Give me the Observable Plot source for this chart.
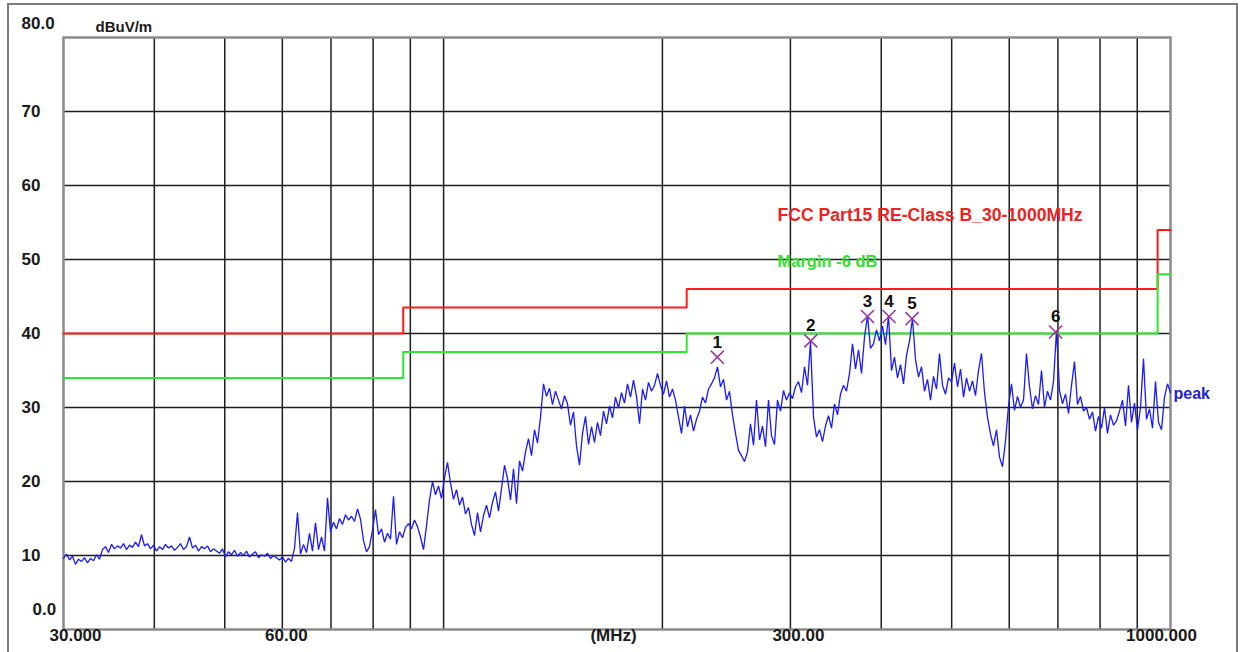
<!DOCTYPE html>
<html><head><meta charset="utf-8">
<script src="https://cdn.jsdelivr.net/npm/d3@7"></script>
<script src="https://cdn.jsdelivr.net/npm/@observablehq/plot@0.6"></script>
<style>
html,body{margin:0;padding:0;background:#fff;}
#wrap{position:relative;width:1243px;height:652px;overflow:hidden;background:#fff;}
#border{position:absolute;left:7px;top:3px;width:1231px;height:670px;border:2px solid #7a7a7a;box-sizing:border-box;pointer-events:none;}
</style></head>
<body><div id="wrap"><div id="chart"></div><div id="border"></div></div>
<script>
// ---------- data ----------
const sweepStart = 30, sweepStop = 1000;   // MHz
// peak detector trace (dBuV/m), sweep points from 30 to 1000 MHz
const traceLevel = [
  9.6, 10.2, 9.4, 9.9, 8.8, 9.5, 9.2, 9.7, 9.0, 9.6, 9.3, 10.1, 9.5,
  10.8, 11.2, 10.4, 11.5, 10.9, 11.3, 11.0, 11.6, 10.8, 11.4, 11.1, 11.8, 11.2, 12.8, 11.3, 11.6,
  10.9, 11.4, 10.6, 11.2, 10.8, 11.5, 11.0, 11.3, 10.7, 11.1, 11.6, 10.8, 11.2, 12.5, 11.0, 11.4, 10.6, 11.2, 10.9, 11.3, 10.5, 10.9, 10.6,
  10.3, 10.9, 9.8, 10.5, 10.1, 10.7, 9.9, 10.4, 10.0, 10.6, 9.8, 10.2, 10.5, 9.7, 10.1, 9.9, 10.3, 9.6, 10.0, 9.7,
  9.4, 9.8, 9.1, 9.6, 9.2,
  11.0, 15.8,
  10.2, 11.5, 10.4, 13.0, 10.6, 14.4, 10.8, 12.5, 10.6,
  17.8, 13.2, 14.5, 13.6, 15.0, 14.2, 15.5, 14.8,
  15.3, 14.6, 16.3, 14.9, 12.0, 10.5, 11.2,
  13.4, 16.2, 12.8, 13.6, 11.8, 13.0, 12.2, 18.0, 11.5, 13.2, 12.4, 13.8,
  14.3, 13.6, 14.8, 13.9, 12.5, 10.8, 14.0,
  17.5, 20.0, 18.2, 19.4, 17.7, 20.5, 22.6,
  19.8, 17.6, 18.9, 16.8, 17.9, 15.6, 16.5, 14.2, 12.7, 15.8, 13.2,
  15.4, 16.8, 15.1, 17.2, 18.6, 16.0, 19.0,
  22.2, 20.4, 17.5, 21.7, 17.0,
  22.8, 21.4, 24.0, 25.8, 23.5, 27.0, 25.2, 28.7,
  33.2, 31.5, 32.6, 30.4, 32.2, 31.0, 29.8, 31.6, 30.5,
  27.6, 29.4, 24.8, 22.2, 26.5, 28.8, 25.0, 27.4,
  25.3, 28.0, 26.2, 29.5, 27.8, 30.2, 28.6, 31.4, 29.9,
  32.0, 30.6, 33.2, 31.4, 33.7, 31.5, 27.8, 32.5, 31.0, 33.4, 32.2, 33.0, 34.6,
  33.0, 31.8, 33.6, 31.4, 32.5, 31.0,
  28.7, 26.5, 30.2, 27.4, 29.0, 26.8, 28.4,
  29.5, 31.4, 30.6, 32.5, 33.2, 34.0,
  35.5,
  32.8, 33.8, 31.0, 32.2,
  29.0, 26.5, 24.2, 23.5, 22.7,
  24.0, 27.8, 24.9, 31.0, 25.6, 27.5, 24.7, 31.0, 26.2, 25.0,
  31.0, 29.5, 32.3, 31.0, 32.0, 31.2, 32.8, 33.5, 32.0,
  35.5, 33.0, 38.9,
  28.7, 26.0, 27.0, 25.4, 27.5, 28.9, 27.2,
  30.5, 29.0, 31.8, 33.0, 32.2, 34.6,
  38.6, 35.2, 37.8, 34.6, 39.5, 42.4, 38.0,
  38.6, 40.5, 39.0, 41.0, 38.5, 42.4,
  35.0, 36.8, 34.0, 35.8, 33.2, 37.0, 39.0, 42.0,
  36.5, 34.1, 35.5, 32.2, 33.8, 31.0, 34.2, 32.5, 37.3, 33.0, 31.8, 34.0,
  33.5, 36.0, 32.8, 35.2, 31.4, 34.0, 32.2, 33.6, 31.6, 35.0, 37.3, 32.0,
  28.7, 26.4, 24.8, 27.0, 23.3, 22.0, 25.5,
  30.2, 33.2, 29.6, 31.5, 30.0, 31.0, 37.3, 32.8, 29.8, 31.6, 30.4, 35.0, 30.0, 32.2, 31.0, 33.5,
  40.4,
  32.3, 30.5, 31.8, 29.2, 33.0, 36.2, 30.4, 31.5, 29.5,
  30.0, 28.4, 29.4, 26.8, 28.8, 27.2, 30.0, 26.5, 29.0, 27.6, 28.2,
  29.5, 31.0, 27.5, 33.0, 28.0, 30.6, 27.0, 30.0, 36.6, 28.4, 29.8, 27.2, 33.5, 28.0, 27.0,
  31.4, 33.2, 32.0
];

// FCC Part 15 Class B limit and -6 dB margin (step edges in MHz)
const limitEdges  = [30, 88, 216, 960, 1000];
const limitLevels = [40, 43.5, 46, 54];
const marginLevels = [34, 37.5, 40, 48];

// marked emissions
const markerIds    = ["1", "2", "3", "4", "5", "6"];
const markerFreqs  = [238, 320, 383, 410, 441, 695];
const markerLevels = [36.8, 39.0, 42.3, 42.3, 42.0, 40.2];

// grid and tick labels
const gridFreqs  = [40, 50, 60, 70, 80, 90, 100, 200, 300, 400, 500, 600, 700, 800, 900];
const gridLevels = [10, 20, 30, 40, 50, 60, 70];
const yTickValues = [80, 70, 60, 50, 40, 30, 20, 10, 0];
const yTickLabels = ["80.0", "70", "60", "50", "40", "30", "20", "10", "0.0"];
const xTickValues = [30, 60, 171.3, 300, 1000];
const xTickLabels = ["30.000", "60.00", "(MHz)", "300.00", "1000.000"];

const unitLabel = "dBuV/m";
const limitTitle = "FCC Part15 RE-Class B_30-1000MHz";
const marginTitle = "Margin -6 dB";
const traceTitle = "peak";

// ---------- build tables ----------
const n = traceLevel.length;
const trace = traceLevel.map((v, i) => ({
  f: sweepStart * Math.pow(sweepStop / sweepStart, i / (n - 1)),
  v
}));
function steps(levels) {
  const pts = levels.map((v, i) => ({f: limitEdges[i], v}));
  pts.push({f: limitEdges[limitEdges.length - 1], v: levels[levels.length - 1]});
  return pts;
}
const limitPts = steps(limitLevels);
const marginPts = steps(marginLevels);
const markers = markerIds.map((id, i) => ({id, f: markerFreqs[i], v: markerLevels[i]}));
const yTicks = yTickValues.map((v, i) => ({v, label: yTickLabels[i]}));
const xTicks = xTickValues.map((f, i) => ({f, label: xTickLabels[i]}));

const FONT = "'Liberation Sans', Arial, Helvetica, sans-serif";
const tickFont = {fontFamily: FONT, fontWeight: "bold", fontSize: 17, fill: "#1a1a1a"};
const xShift = {"30.000": 12, "60.00": 4, "(MHz)": 0, "300.00": 8, "1000.000": -9};

const xLabelMarks = xTicks.map(t =>
  Plot.text([t], {x: "f", text: "label", frameAnchor: "bottom", dy: 11, dx: xShift[t.label], ...tickFont})
);

const chart = Plot.plot({
  width: 1243,
  height: 652,
  marginLeft: 63,
  marginRight: 73,
  marginTop: 37,
  marginBottom: 23,
  x: {type: "log", domain: [sweepStart, sweepStop], axis: null},
  y: {domain: [0, 80], axis: null},
  style: {background: "transparent", fontFamily: FONT, overflow: "visible"},
  marks: [
    Plot.ruleY(gridLevels, {stroke: "#1e1e1e", strokeWidth: 1.5}),
    Plot.ruleX(gridFreqs, {stroke: "#1e1e1e", strokeWidth: 1.5}),
    Plot.frame({stroke: "#8a8a8a", strokeWidth: 2.5}),
    Plot.line(limitPts, {x: "f", y: "v", curve: "step-after", stroke: "#ff1c1c", strokeWidth: 2}),
    Plot.line(marginPts, {x: "f", y: "v", curve: "step-after", stroke: "#2ee82e", strokeWidth: 2}),
    Plot.line(trace, {x: "f", y: "v", stroke: "#1a1aff", strokeWidth: 1.3, strokeLinejoin: "miter"}),
    Plot.dot(markers, {x: "f", y: "v", symbol: "times", r: 6, stroke: "#9c3a9c", strokeWidth: 1.6}),
    Plot.text(markers, {x: "f", y: "v", text: "id", dy: -15, fontFamily: FONT, fontWeight: "bold", fontSize: 17, fill: "#111"}),
    // y tick labels
    Plot.text(yTicks.filter(d => d.v > 0 && d.v < 80), {y: "v", text: "label", frameAnchor: "left", textAnchor: "start", dx: -42, ...tickFont}),
    Plot.text(yTicks.filter(d => d.v === 80), {y: "v", text: "label", frameAnchor: "left", textAnchor: "start", dx: -42, dy: -14, ...tickFont}),
    Plot.text(yTicks.filter(d => d.v === 0), {y: "v", text: "label", frameAnchor: "left", textAnchor: "start", dx: -31, dy: -20, ...tickFont}),
    // unit label
    Plot.text([unitLabel], {text: d => d, frameAnchor: "top-left", textAnchor: "start", dx: 32, dy: -16, fontFamily: FONT, fontWeight: "bold", fontSize: 15, fill: "#1a1a1a"}),
    // x tick labels
    ...xLabelMarks,
    // legend-like annotations
    Plot.text([limitTitle], {x: () => 288, y: () => 55.9, text: d => d, textAnchor: "start", fontFamily: FONT, fontWeight: "bold", fontSize: 17.6, fill: "#ee2222"}),
    Plot.text([marginTitle], {x: () => 288, y: () => 49.7, text: d => d, textAnchor: "start", fontFamily: FONT, fontWeight: "bold", fontSize: 16.5, fill: "#33e033"}),
    Plot.text([traceTitle], {x: () => 1000, y: () => 31.9, text: d => d, textAnchor: "start", dx: 3, fontFamily: FONT, fontWeight: "bold", fontSize: 16, fill: "#2020dd"})
  ]
});
document.getElementById("chart").appendChild(chart);
</script>
</body></html>
